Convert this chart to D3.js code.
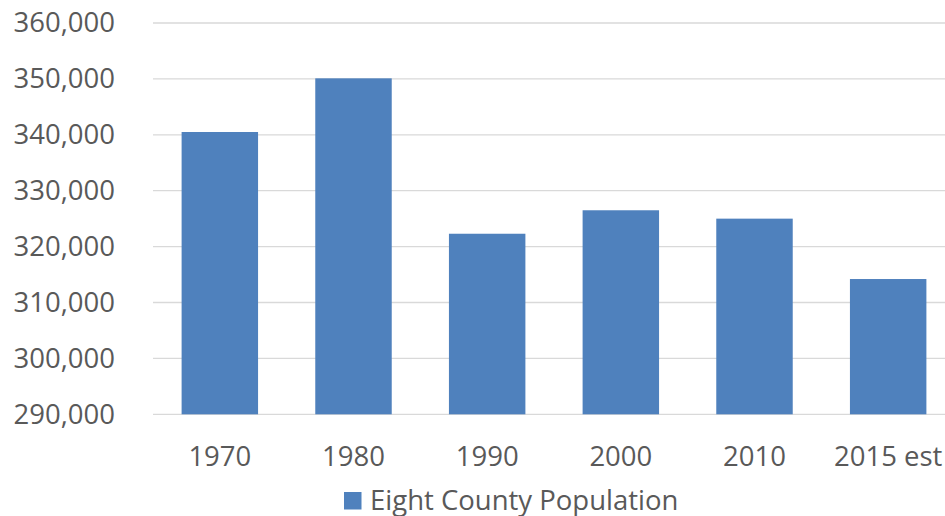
<!DOCTYPE html>
<html>
<head>
<meta charset="utf-8">
<script src="https://cdnjs.cloudflare.com/ajax/libs/d3/7.8.5/d3.min.js"></script>
<style>
  body { margin: 0; background: #fff; }
  svg { display: block; font-family: "Open Sans", sans-serif; }
</style>
</head>
<body>
<svg id="chart"></svg>
<script>
var width = 945, height = 516
var margin = {top: 23, right: -10, bottom: 102, left: 153}

// data
const years = ["1970", "1980", "1990", "2000", "2010", "2015 est"]
const population = [340500, 350100, 322300, 326500, 325000, 314200]
const yTicks = [290000, 300000, 310000, 320000, 330000, 340000, 350000, 360000]
const seriesName = "Eight County Population"

const barColor = "#4F81BD", gridColor = "#D9D9D9", textColor = "#595959"
const fontSize = "27.5px"

var svg = d3.select("#chart")
    .attr("width", width)
    .attr("height", height)

var x = d3.scaleBand()
    .domain(years)
    .range([margin.left, width - margin.right])
    .paddingInner(0.428)
    .paddingOuter(0.214)

var y = d3.scaleLinear()
    .domain([290000, 360000])
    .range([height - margin.bottom + 0.3, margin.top])

// gridlines
svg.append("g")
    .selectAll("line")
    .data(yTicks)
    .enter()
    .append("line")
    .attr("x1", margin.left)
    .attr("x2", width - margin.right)
    .attr("y1", d => y(d))
    .attr("y2", d => y(d))
    .attr("stroke", gridColor)
    .attr("stroke-width", 1.3)

// y axis labels
var yAxis = svg.append("g")
    .attr("transform", "translate(115,0)")
    .call(d3.axisLeft(y).tickValues(yTicks).tickSize(0).tickPadding(0).tickFormat(d3.format(",")))
    .attr("font-family", null)
    .attr("font-size", null)
yAxis.select(".domain").remove()
yAxis.selectAll("text")
    .attr("fill", textColor)
    .style("font-size", fontSize)

// bars
svg.append("g")
    .selectAll("rect")
    .data(population)
    .enter()
    .append("rect")
    .attr("x", (d, i) => x(years[i]))
    .attr("width", x.bandwidth())
    .attr("y", d => y(d))
    .attr("height", d => y(290000) - y(d))
    .attr("fill", barColor)

// x axis labels
var xAxis = svg.append("g")
    .attr("transform", "translate(0," + y(290000) + ")")
    .call(d3.axisBottom(x).tickSize(0).tickPadding(32))
    .attr("font-family", null)
    .attr("font-size", null)
xAxis.select(".domain").remove()
xAxis.selectAll("text")
    .attr("fill", textColor)
    .style("font-size", fontSize)

// legend
var legend = svg.append("g").attr("transform", "translate(344,492)")
legend.append("rect")
    .attr("width", 17.5)
    .attr("height", 17.5)
    .attr("fill", barColor)
legend.append("text")
    .attr("x", 26)
    .attr("y", 17.5)
    .attr("fill", textColor)
    .style("font-size", fontSize)
    .text(seriesName)
</script>
</body>
</html>
